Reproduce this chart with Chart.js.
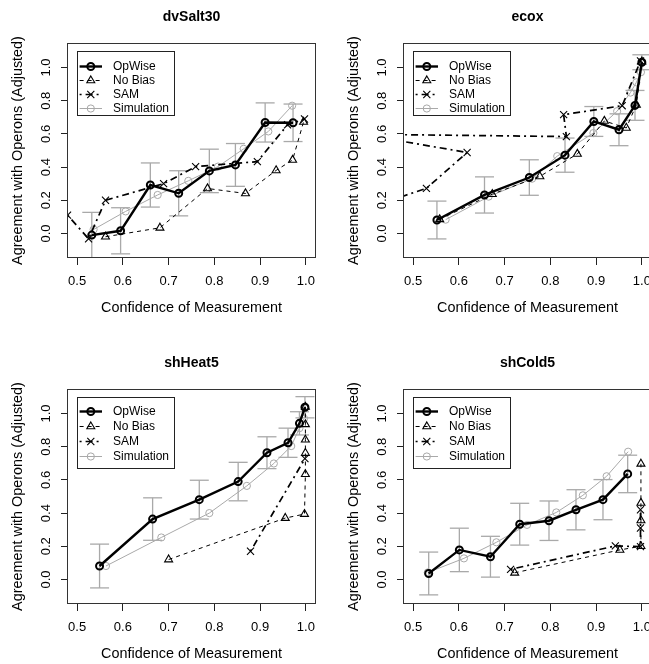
<!DOCTYPE html>
<html><head><meta charset="utf-8">
<script src="https://cdn.jsdelivr.net/npm/chart.js@4/dist/chart.umd.min.js"></script>
<style>
html,body{margin:0;padding:0;background:#fff;overflow:hidden;width:649px;height:664px;position:relative;}
canvas.panel{position:absolute;}
</style></head><body>
<canvas id="c0" class="panel" width="336" height="346" style="left:0px;top:0px"></canvas>
<canvas id="c1" class="panel" width="336" height="346" style="left:336px;top:0px"></canvas>
<canvas id="c2" class="panel" width="336" height="346" style="left:0px;top:346px"></canvas>
<canvas id="c3" class="panel" width="336" height="346" style="left:336px;top:346px"></canvas>
<script>
// ---------------- DATA ----------------
const panelTitles = ['dvSalt30', 'ecox', 'shHeat5', 'shCold5'];
const seriesNames = ['OpWise', 'No Bias', 'SAM', 'Simulation'];
const xTicks = [0.5, 0.6, 0.7, 0.8, 0.9, 1.0];
const yTicks = [0.0, 0.2, 0.4, 0.6, 0.8, 1.0];
const xLimits = [0.48, 1.02];
const yLimits = [-0.148, 1.148];
const xAxisTitle = 'Confidence of Measurement';
const yAxisTitle = 'Agreement with Operons (Adjusted)';

const opwiseX = [
  [0.532, 0.595, 0.660, 0.722, 0.789, 0.846, 0.911, 0.972],
  [0.552, 0.656, 0.754, 0.832, 0.895, 0.950, 0.985, 1.000],
  [0.549, 0.665, 0.767, 0.852, 0.915, 0.961, 0.986, 0.998],
  [0.534, 0.601, 0.669, 0.733, 0.797, 0.856, 0.915, 0.969]
];
const opwiseY = [
  [-0.010, 0.016, 0.292, 0.242, 0.377, 0.413, 0.669, 0.667],
  [0.081, 0.232, 0.337, 0.472, 0.675, 0.625, 0.772, 1.032],
  [0.081, 0.364, 0.481, 0.590, 0.764, 0.824, 0.941, 1.038],
  [0.036, 0.178, 0.137, 0.333, 0.354, 0.420, 0.481, 0.636]
];
const opwiseErr = [
  [0.137, 0.139, 0.133, 0.136, 0.131, 0.129, 0.118, 0.113],
  [0.114, 0.109, 0.107, 0.103, 0.090, 0.096, 0.090, 0.045],
  [0.132, 0.128, 0.117, 0.116, 0.096, 0.088, 0.070, 0.064],
  [0.129, 0.131, 0.123, 0.126, 0.119, 0.121, 0.121, 0.113]
];
const noBiasX = [
  [0.562, 0.681, 0.785, 0.868, 0.935, 0.971, 0.995],
  [0.558, 0.673, 0.777, 0.859, 0.918, 0.966, 0.988, 1.000],
  [0.700, 0.955, 0.997, 0.999, 0.999, 0.999, 0.999, 0.999],
  [0.722, 0.952, 0.998, 0.998, 0.998, 0.998]
];
const noBiasY = [
  [-0.020, 0.034, 0.271, 0.241, 0.380, 0.443, 0.672],
  [0.085, 0.237, 0.344, 0.479, 0.678, 0.636, 0.775, 1.035],
  [0.120, 0.370, 0.394, 0.634, 0.762, 0.842, 0.935, 1.040],
  [0.040, 0.178, 0.200, 0.356, 0.461, 0.697]
];
const samX = [
  [0.479, 0.525, 0.562, 0.689, 0.759, 0.894, 0.960, 0.997],
  [0.997, 0.957, 0.829, 0.835, 0.387, 0.618, 0.529, 0.400],
  [0.879, 0.998],
  [0.713, 0.942, 0.997, 0.997, 0.997]
];
const samY = [
  [0.110, -0.032, 0.200, 0.300, 0.403, 0.433, 0.655, 0.690],
  [1.040, 0.770, 0.716, 0.584, 0.598, 0.488, 0.272, 0.153],
  [0.170, 0.728],
  [0.061, 0.202, 0.198, 0.310, 0.420]
];
const simX = [
  [0.536, 0.606, 0.676, 0.743, 0.808, 0.864, 0.918, 0.970],
  [0.571, 0.665, 0.760, 0.815, 0.894, 0.946, 0.975, 0.988, 0.998],
  [0.563, 0.684, 0.789, 0.871, 0.930, 0.968, 0.986, 0.996],
  [0.532, 0.611, 0.682, 0.749, 0.813, 0.871, 0.923, 0.970]
];
const simY = [
  [0.024, 0.133, 0.232, 0.317, 0.403, 0.510, 0.615, 0.770],
  [0.083, 0.222, 0.330, 0.466, 0.605, 0.737, 0.849, 0.911, 0.972],
  [0.081, 0.253, 0.400, 0.564, 0.699, 0.804, 0.912, 0.970],
  [0.042, 0.127, 0.224, 0.329, 0.404, 0.507, 0.622, 0.770]
];

// ---------------- STYLE ----------------
const FONT = "'Liberation Sans', Arial, Helvetica, sans-serif";
const GRAY = '#a9a9a9';
Chart.defaults.font.family = FONT;
Chart.defaults.color = '#000';

function pts(xs, ys) { return xs.map((x, i) => ({x: x, y: ys[i]})); }
function errPts(xs, ys, es) {
  const out = [];
  xs.forEach((x, i) => {
    out.push({x: x, y: ys[i] - es[i]});
    out.push({x: x, y: ys[i] + es[i]});
    out.push({x: x, y: null});
  });
  return out;
}

function drawMarker(ctx, style, x, y, r, bw, color) {
  ctx.save();
  ctx.setLineDash([]);
  ctx.strokeStyle = color; ctx.lineWidth = bw;
  ctx.beginPath();
  if (style === 'circle') {
    ctx.arc(x, y, r, 0, Math.PI * 2);
  } else if (style === 'triangle') {
    for (let k = 0; k < 3; k++) {
      const a = k * 2 * Math.PI / 3;
      const px = x + Math.sin(a) * r, py = y - Math.cos(a) * r;
      if (k === 0) ctx.moveTo(px, py); else ctx.lineTo(px, py);
    }
    ctx.closePath();
  } else if (style === 'crossRot') {
    const d = r * Math.SQRT1_2;
    ctx.moveTo(x - d, y - d); ctx.lineTo(x + d, y + d);
    ctx.moveTo(x - d, y + d); ctx.lineTo(x + d, y - d);
  }
  ctx.stroke();
  ctx.restore();
}

const rBox = {
  id: 'rBox',
  afterDraw(chart, args, opts) {
    const {ctx, chartArea: ca} = chart;
    ctx.save();
    ctx.strokeStyle = '#333'; ctx.lineWidth = 1;
    ctx.strokeRect(Math.round(ca.left) - 0.5, Math.round(ca.top) + 0.5,
                   Math.round(ca.right - ca.left) + 1, Math.round(ca.bottom - ca.top) - 1);
    // legend
    const x0 = Math.round(ca.left + opts.dx), y0 = Math.round(ca.top + opts.dy);
    ctx.fillStyle = '#fff';
    ctx.fillRect(x0, y0, opts.w, opts.h);
    ctx.strokeStyle = '#222'; ctx.lineWidth = 1;
    ctx.strokeRect(x0 + 0.5, y0 + 0.5, opts.w, opts.h);
    seriesNames.forEach((name, i) => {
      const ds = chart.data.datasets[i];
      const y = Math.round(y0 + opts.first + i * opts.gap) + 0.5;
      ctx.save();
      ctx.beginPath();
      ctx.setLineDash(ds.borderDash || []);
      ctx.lineWidth = ds.borderWidth; ctx.strokeStyle = ds.borderColor;
      ctx.moveTo(x0 + 2.6, y); ctx.lineTo(x0 + 25, y);
      ctx.stroke();
      ctx.restore();
      drawMarker(ctx, ds.pointStyle, x0 + 13.8, y, ds.pointRadius, ds.pointBorderWidth, ds.pointBorderColor);
      ctx.fillStyle = '#000';
      ctx.font = '12px ' + FONT;
      ctx.textBaseline = 'middle'; ctx.textAlign = 'left';
      ctx.fillText(name, x0 + 36, y);
    });
    ctx.restore();
  }
};

function makePanel(p) {
  const bottomRow = p >= 2;
  const legendOpts = bottomRow
    ? {dx: 9, dy: 8.3, w: 97, h: 71, first: 13.5, gap: 15}
    : {dx: 9, dy: 8.4, w: 97, h: 64, first: 15, gap: 14};
  const datasets = [
    {label: seriesNames[0], data: pts(opwiseX[p], opwiseY[p]), borderColor: '#000', borderWidth: 2.4,
     pointStyle: 'circle', pointRadius: 3.5, pointBorderWidth: 2, pointBorderColor: '#000',
     pointBackgroundColor: 'rgba(0,0,0,0)', order: 0},
    {label: seriesNames[1], data: pts(noBiasX[p], noBiasY[p]), borderColor: '#000', borderWidth: 1,
     borderDash: [4, 4], pointStyle: 'triangle', pointRadius: 4.6, pointBorderWidth: 1.1,
     pointBorderColor: '#000', pointBackgroundColor: 'rgba(0,0,0,0)', order: 1},
    {label: seriesNames[2], data: pts(samX[p], samY[p]), borderColor: '#000', borderWidth: 1.7,
     borderDash: [2, 4, 7, 4], pointStyle: 'crossRot', pointRadius: 5, pointBorderWidth: 1.1,
     pointBorderColor: '#000', pointBackgroundColor: 'rgba(0,0,0,0)', order: 2},
    {label: seriesNames[3], data: pts(simX[p], simY[p]), borderColor: GRAY, borderWidth: 1,
     pointStyle: 'circle', pointRadius: 3.6, pointBorderWidth: 1, pointBorderColor: GRAY,
     pointBackgroundColor: 'rgba(0,0,0,0)', order: 3},
    {label: 'err', data: errPts(opwiseX[p], opwiseY[p], opwiseErr[p]), borderColor: GRAY, borderWidth: 1.3,
     pointStyle: 'line', pointRadius: 9.5, pointBorderWidth: 1.3, pointBorderColor: GRAY,
     spanGaps: false, order: 4}
  ];
  datasets.forEach(d => { d.showLine = true; d.clip = 0; d.tension = 0; d.pointHoverRadius = d.pointRadius; });

  new Chart(document.getElementById('c' + p), {
    type: 'scatter',
    data: {datasets},
    options: {
      responsive: false, animation: false, events: [],
      layout: {padding: {left: 0, right: 21, top: 0, bottom: 0}},
      plugins: {
        legend: {display: false}, tooltip: {enabled: false},
        title: {display: true, text: panelTitles[p], fullSize: false, color: '#000',
                font: {size: 14, weight: 'bold', family: FONT, lineHeight: 1.2},
                padding: {top: 8.3, bottom: 17.9}},
        rBox: legendOpts
      },
      scales: {
        x: {
          type: 'linear', min: xLimits[0], max: xLimits[1],
          afterBuildTicks: s => { s.ticks = xTicks.map(v => ({value: v})); },
          afterFit: s => { s.height = 88; },
          grid: {display: true, drawOnChartArea: false, drawTicks: true, tickLength: 7, color: '#222', lineWidth: 1},
          border: {display: false},
          ticks: {autoSkip: false, maxRotation: 0, minRotation: 0, padding: 8.2, color: '#000',
                  font: {size: 13, family: FONT}, callback: v => Number(v).toFixed(1)},
          title: {display: true, text: xAxisTitle, color: '#000', font: {size: 14.4, family: FONT, lineHeight: 1.2},
                  padding: {top: 0, bottom: 29}}
        },
        y: {
          type: 'linear', min: yLimits[0], max: yLimits[1],
          afterBuildTicks: s => { s.ticks = yTicks.map(v => ({value: v})); },
          afterFit: s => { s.width = 68; },
          grid: {display: true, drawOnChartArea: false, drawTicks: true, tickLength: 7, color: '#222', lineWidth: 1},
          border: {display: false},
          ticks: {autoSkip: false, minRotation: 90, maxRotation: 90, crossAlign: 'center', padding: 5.3, color: '#000',
                  font: {size: 13, family: FONT}, callback: v => Number(v).toFixed(1)},
          title: {display: true, text: yAxisTitle, color: '#000', font: {size: 14.4, family: FONT, lineHeight: 1.2},
                  padding: {top: 9.7, bottom: 0}}
        }
      }
    },
    plugins: [rBox]
  });
}
[0, 1, 2, 3].forEach(makePanel);
</script>
</body></html>
